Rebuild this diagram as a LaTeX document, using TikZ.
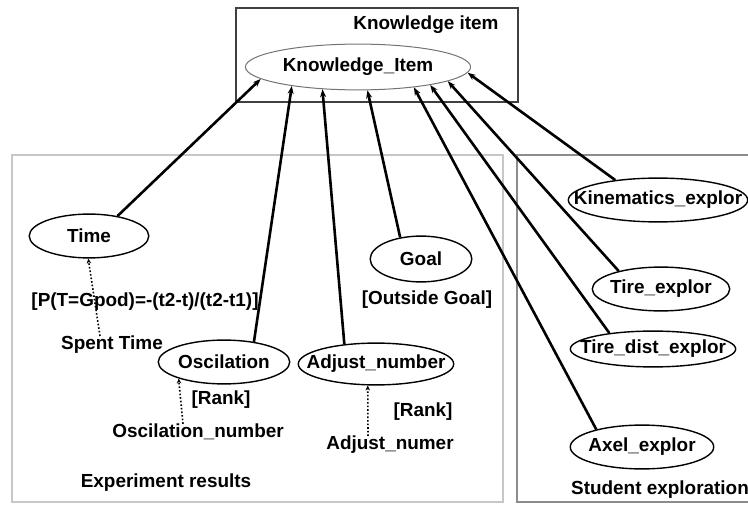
\documentclass[tikz,border=0pt]{standalone}
\usepackage{fontspec}
\setmainfont{Liberation Sans}
\usetikzlibrary{shapes.geometric,arrows.meta}
\begin{document}
\begin{tikzpicture}[x=1bp,y=-1bp,
  every node/.style={font=\fontsize{19}{22}\selectfont\bfseries},
  oval/.style={draw, ellipse, line width=1.4bp, inner sep=0pt},
  txt/.style={inner sep=0pt},
  link/.style={line width=2.6bp, -{Stealth[length=8bp,width=6bp]}},
  dotlink/.style={dotted, line width=1.6bp, -{Stealth[length=5bp,width=4.5bp]}},
  topframe/.style={draw=black!75, line width=1.4bp},
  leftframe/.style={draw=black!22, line width=2bp},
  rightframe/.style={draw=black!45, line width=1.4bp}
]
\useasboundingbox (0,0) rectangle (748,506);

% group frames
\draw[leftframe]  (12,155) rectangle (503,502);
\draw[rightframe] (517,155) rectangle (752,502);
\draw[topframe]   (236,8) rectangle (518,102);

% group titles
\node[txt] (ttop)   at (426,25)  {Knowledge item};
\node[txt] (tleft)  at (166,483) {Experiment results};
\node[txt] (tright) at (660,490) {Student exploration};

% central item
\node[oval, draw=black!55, line width=1bp, minimum width=226, minimum height=46] (k) at (358,67) {\makebox[0pt]{Knowledge\_Item}};

% experiment results
\node[oval, minimum width=120, minimum height=44] (time) at (89,236)  {\makebox[0pt]{Time}};
\node[oval, minimum width=102, minimum height=46] (goal) at (421,259) {\makebox[0pt]{Goal}};
\node[oval, minimum width=132, minimum height=44] (osc)  at (224,362) {\makebox[0pt]{Oscilation}};
\node[oval, minimum width=156, minimum height=42] (adj)  at (376,364) {\makebox[0pt]{Adjust\_number}};

\node[txt] (formula) at (145,302) {[P(T=Gpod)=-(t2-t)/(t2-t1)]};
\node[txt] (spent)   at (112,345) {Spent Time};
\node[txt] (outg)    at (427,300) {[Outside Goal]};
\node[txt] (rank1)   at (221,400) {[Rank]};
\node[txt] (oscnum)  at (198,432) {Oscilation\_number};
\node[txt] (rank2)   at (423,412) {[Rank]};
\node[txt] (adjnum)  at (390,445) {Adjust\_numer};

% student exploration
\node[oval, minimum width=180, minimum height=44] (kin)   at (658,200) {\makebox[0pt]{Kinematics\_explor}};
\node[oval, minimum width=138, minimum height=44] (tire)  at (661,289) {\makebox[0pt]{Tire\_explor}};
\node[oval, minimum width=166, minimum height=36] (tdist) at (653,349) {\makebox[0pt]{Tire\_dist\_explor}};
\node[oval, minimum width=144, minimum height=44] (axel)  at (642,447) {\makebox[0pt]{Axel\_explor}};

% links into the knowledge item
\draw[link] (time.35)   -- (k.187);
\draw[link] (osc.34)    -- (k.196);
\draw[link] (adj.148)   -- (k.212);
\draw[link] (goal.134)  -- (k.292);
\draw[link] (axel.159)  -- (k.340);
\draw[link] (tdist.160) -- (k.346);
\draw[link] (tire.157)  -- (k.351);
\draw[link] (kin.155)   -- (k.357);

% evidence links
\draw[dotlink] ([xshift=-12bp]spent.north)  -- (time.268);
\draw[dotlink] ([xshift=-15bp]oscnum.north) -- (osc.200);
\draw[dotlink] ([xshift=-22bp]adjnum.north) -- (adj.249);
\end{tikzpicture}
\end{document}
